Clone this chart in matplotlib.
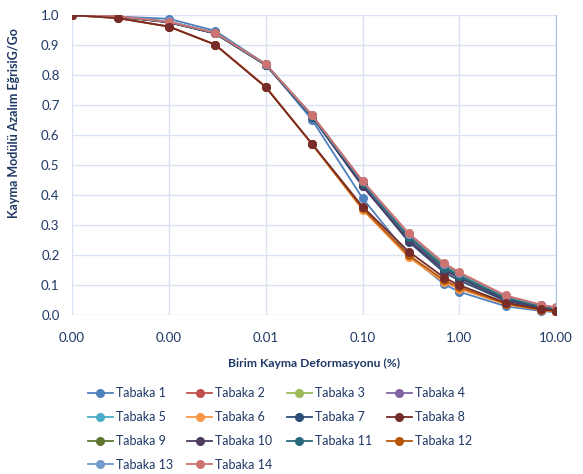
import matplotlib
matplotlib.use("Agg")
import matplotlib.pyplot as plt

plt.rcParams['font.family'] = ['Lato', 'DejaVu Sans']

# shear strain (%)
strain = [0.0001, 0.0003, 0.001, 0.003, 0.01, 0.03, 0.1, 0.3, 0.7, 1.0, 3.0, 7.0, 10.0]

# G/Go per layer
tabaka_1 = [1.0, 0.995, 0.988, 0.948, 0.837, 0.652, 0.390, 0.200, 0.103, 0.078, 0.030, 0.014, 0.010]
tabaka_2 = [1.0, 0.995, 0.977, 0.940, 0.835, 0.665, 0.442, 0.262, 0.160, 0.132, 0.058, 0.030, 0.022]
tabaka_3 = [1.0, 0.995, 0.978, 0.941, 0.836, 0.666, 0.444, 0.266, 0.165, 0.136, 0.061, 0.032, 0.024]
tabaka_4 = [1.0, 0.995, 0.977, 0.940, 0.835, 0.664, 0.440, 0.258, 0.155, 0.128, 0.055, 0.028, 0.020]
tabaka_5 = [1.0, 0.995, 0.978, 0.941, 0.836, 0.665, 0.443, 0.264, 0.162, 0.134, 0.060, 0.031, 0.023]
tabaka_6 = [1.0, 0.990, 0.962, 0.902, 0.762, 0.570, 0.352, 0.193, 0.110, 0.088, 0.036, 0.017, 0.012]
tabaka_7 = [1.0, 0.995, 0.976, 0.939, 0.834, 0.662, 0.432, 0.245, 0.142, 0.116, 0.048, 0.024, 0.018]
tabaka_8 = [1.0, 0.990, 0.962, 0.902, 0.760, 0.572, 0.362, 0.212, 0.125, 0.100, 0.042, 0.020, 0.015]
tabaka_9 = [1.0, 0.995, 0.978, 0.941, 0.836, 0.666, 0.445, 0.268, 0.167, 0.138, 0.062, 0.033, 0.024]
tabaka_10 = [1.0, 0.995, 0.976, 0.939, 0.834, 0.663, 0.430, 0.250, 0.150, 0.124, 0.052, 0.026, 0.019]
tabaka_11 = [1.0, 0.995, 0.977, 0.940, 0.835, 0.664, 0.441, 0.260, 0.158, 0.130, 0.057, 0.029, 0.021]
tabaka_12 = [1.0, 0.990, 0.962, 0.902, 0.761, 0.571, 0.356, 0.200, 0.116, 0.093, 0.039, 0.018, 0.013]
tabaka_13 = [1.0, 0.996, 0.979, 0.942, 0.837, 0.667, 0.446, 0.270, 0.170, 0.140, 0.064, 0.034, 0.025]
tabaka_14 = [1.0, 0.996, 0.978, 0.941, 0.837, 0.668, 0.448, 0.273, 0.173, 0.143, 0.066, 0.035, 0.026]

layers = [tabaka_1, tabaka_2, tabaka_3, tabaka_4, tabaka_5, tabaka_6, tabaka_7,
          tabaka_8, tabaka_9, tabaka_10, tabaka_11, tabaka_12, tabaka_13, tabaka_14]
names = [f"Tabaka {i}" for i in range(1, 15)]
colors = ["#4F81BD", "#C0504D", "#9BBB59", "#8064A2", "#4BACC6", "#F79646", "#2C4D75",
          "#772C2A", "#5F7530", "#4D3B62", "#276A7C", "#B65708", "#729ACA", "#CD7371"]

xtick_vals = [0.0001, 0.001, 0.01, 0.1, 1, 10]
xtick_labels = ["0.00", "0.00", "0.01", "0.10", "1.00", "10.00"]
ytick_vals = [0.0, 0.1, 0.2, 0.3, 0.4, 0.5, 0.6, 0.7, 0.8, 0.9, 1.0]

text_col = "#1F3864"
grid_col = "#D9E2F3"

fig = plt.figure(figsize=(5.83, 4.74), dpi=100)
ax = fig.add_axes([0.1235, 0.335, 0.8305, 0.633])

for i, (vals, name, col) in enumerate(zip(layers, names, colors)):
    # Tabaka 8 sits on top of the lower group in the original
    z = 2.9 if name == "Tabaka 8" else 2.0 + i * 0.01
    ax.plot(strain, vals, color=col, lw=1.3, marker="o", markersize=5.5, label=name, zorder=z)

ax.set_xscale("log")
ax.set_xlim(0.0001, 10)
ax.set_ylim(0, 1.0)
ax.set_xticks(xtick_vals)
ax.set_xticklabels(xtick_labels)
ax.minorticks_off()
ax.set_yticks(ytick_vals)
ax.set_yticklabels([f"{v:.1f}" for v in ytick_vals])
ax.tick_params(length=0, colors=text_col, labelsize=9.5)
ax.tick_params(axis="x", pad=12)
ax.tick_params(axis="y", pad=9)
ax.grid(True, color=grid_col, lw=1.0)
ax.set_axisbelow(True)
for side in ["left", "top", "bottom"]:
    ax.spines[side].set_visible(False)
ax.spines["right"].set_color("#A9C4EB")

ax.set_xlabel("Birim Kayma Deformasyonu (%)", fontsize=8.7, fontweight="bold",
              color=text_col, labelpad=10)
ax.set_ylabel("Kayma Modülü Azalım EğrisiG/Go", fontsize=9, fontweight="bold",
              color=text_col)
ax.yaxis.set_label_coords(-0.107, 0.642)

# legend filled row by row, as in the reference
handles, labels = ax.get_legend_handles_labels()
order = [0, 4, 8, 12, 1, 5, 9, 13, 2, 6, 10, 3, 7, 11]
fig.legend([handles[i] for i in order], [labels[i] for i in order],
           loc="upper left", bbox_to_anchor=(0.131, 0.207), ncol=4, frameon=False,
           fontsize=9, labelcolor=text_col, handlelength=2.0, columnspacing=1.15,
           handletextpad=0.25, labelspacing=0.95)

fig.savefig("out.png", dpi=100)
